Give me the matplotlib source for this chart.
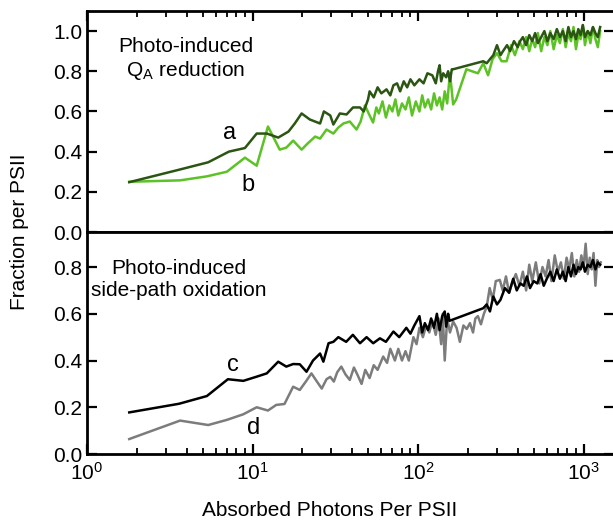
import numpy as np
import matplotlib
matplotlib.use('Agg')
import matplotlib.pyplot as plt
from matplotlib.ticker import LogLocator, NullFormatter, MultipleLocator

plt.rcParams.update({
    'font.family': ['Liberation Sans', 'DejaVu Sans'],
    'font.size': 14, 'axes.linewidth': 2.0,
    'xtick.direction': 'in', 'ytick.direction': 'in',
    'mathtext.fontset': 'custom', 'mathtext.rm': 'Liberation Sans',
    'mathtext.it': 'Liberation Sans', 'mathtext.default': 'regular',
})

# ---- data ----
# (a) photo-induced QA reduction, dark green
xa = [1.8, 3.6, 5.4, 7.2, 9.0, 10.6, 12.2, 14.3, 16.5, 18, 19.8, 22.2, 25.6, 27, 29.5,
      30.8, 33.7, 37, 40.5, 44.6, 47, 49.9, 51, 54, 57, 60, 64.5, 68, 71, 74.7,
      78, 82, 86, 90, 95, 102, 108, 114, 122, 128, 132, 135, 138, 142, 148,
      152, 156, 160, 163, 248, 260, 272, 285, 300, 315, 326, 345, 360, 380, 400,
      414, 430, 450, 470, 490, 510, 530, 555, 580, 605, 630, 660, 690, 720, 750,
      780, 810, 840, 870, 900, 930, 960, 990, 1020, 1060, 1100, 1140, 1180, 1220, 1260]
ya = [0.248, 0.31, 0.347, 0.40, 0.418, 0.49, 0.49, 0.47, 0.50, 0.54, 0.59, 0.56, 0.54, 0.60, 0.58,
      0.535, 0.59, 0.585, 0.62, 0.62, 0.60, 0.66, 0.70, 0.67, 0.72, 0.69, 0.71, 0.68, 0.73, 0.74,
      0.70, 0.75, 0.72, 0.76, 0.73, 0.76, 0.74, 0.79, 0.78, 0.74, 0.80, 0.83, 0.75, 0.79, 0.77,
      0.80, 0.75, 0.81, 0.81, 0.85, 0.84, 0.86, 0.88, 0.93, 0.88, 0.90, 0.93, 0.90, 0.95, 0.92,
      0.95, 0.97, 0.93, 0.98, 0.95, 0.99, 0.94, 0.97, 1.00, 0.95, 0.99, 0.96, 1.01, 0.97, 1.00,
      0.95, 1.02, 0.97, 1.00, 0.96, 1.01, 0.98, 1.03, 0.97, 1.00, 0.98, 1.02, 0.99, 0.97, 1.02]

# (b) photo-induced QA reduction, light green
xb = [1.8, 3.65, 5.3, 7.0, 9.0, 10.6, 12.4, 14.6, 16.0, 17.6, 19.8, 21.5, 23.9, 25.6, 28,
      30.8, 33, 35.4, 38.7, 42.5, 45, 47.8, 51, 53.5, 56, 58, 61, 64, 67, 70,
      73, 76, 80, 84, 88, 92, 97, 102, 106, 110, 115, 120, 125, 130, 135,
      140, 145, 150, 156, 163, 170, 196, 212, 230, 248, 265, 282, 300, 320, 343,
      365, 385, 410, 430, 450, 470, 490, 510, 530, 555, 580, 605, 630, 660, 690,
      720, 750, 780, 810, 840, 870, 900, 930, 960, 990, 1020, 1060, 1100, 1140, 1180,
      1220, 1260]
yb = [0.25, 0.257, 0.277, 0.30, 0.37, 0.33, 0.525, 0.41, 0.42, 0.455, 0.41, 0.44, 0.475, 0.465, 0.51,
      0.49, 0.52, 0.54, 0.55, 0.51, 0.55, 0.63, 0.58, 0.545, 0.62, 0.59, 0.65, 0.57, 0.63, 0.60,
      0.66, 0.58, 0.64, 0.61, 0.67, 0.58, 0.65, 0.60, 0.68, 0.62, 0.66, 0.61, 0.69, 0.63, 0.67,
      0.61, 0.70, 0.64, 0.79, 0.635, 0.66, 0.81, 0.80, 0.79, 0.84, 0.78, 0.86, 0.89, 0.85, 0.85,
      0.93, 0.88, 0.95, 0.91, 0.97, 0.90, 0.96, 0.92, 0.99, 0.90, 0.97, 0.93, 1.00, 0.91, 0.98,
      0.94, 1.01, 0.92, 0.99, 0.95, 1.02, 0.91, 0.98, 0.96, 1.03, 0.93, 1.00, 0.94, 1.02, 0.96,
      0.92, 1.00]

# (c) photo-induced side-path oxidation, black
xc = [1.8, 3.6, 5.3, 7.1, 8.8, 10.5, 12.2, 14.3, 16.0, 17.6, 19.3, 21.2, 23.2, 25.6, 26.8,
      28.8, 30.8, 33, 36.8, 40.4, 44.6, 48.9, 53.6, 58.9, 64, 71, 77, 85, 90, 95,
      102, 106, 110, 115, 120, 125, 130, 135, 140, 145, 148, 152, 155, 248, 260,
      272, 285, 300, 315, 335, 355, 376, 395, 415, 435, 455, 475, 500, 525, 550,
      575, 600, 630, 660, 690, 720, 750, 780, 810, 840, 870, 900, 930, 960, 990,
      1020, 1060, 1100, 1140, 1180, 1220, 1260]
yc = [0.178, 0.215, 0.248, 0.32, 0.313, 0.33, 0.345, 0.395, 0.374, 0.385, 0.384, 0.352, 0.40, 0.43, 0.395,
      0.474, 0.48, 0.50, 0.48, 0.51, 0.474, 0.50, 0.474, 0.495, 0.48, 0.524, 0.50, 0.54, 0.515, 0.55,
      0.59, 0.52, 0.56, 0.53, 0.58, 0.54, 0.60, 0.53, 0.59, 0.61, 0.545, 0.60, 0.57, 0.624, 0.64,
      0.61, 0.674, 0.64, 0.66, 0.71, 0.69, 0.75, 0.70, 0.73, 0.72, 0.76, 0.71, 0.74, 0.73, 0.77,
      0.72, 0.75, 0.78, 0.74, 0.79, 0.75, 0.78, 0.74, 0.80, 0.76, 0.81, 0.77, 0.80, 0.79, 0.82,
      0.78, 0.81, 0.80, 0.83, 0.79, 0.82, 0.81]

# (d) photo-induced side-path oxidation, grey
xd = [1.8, 3.65, 5.4, 7.0, 8.8, 10.6, 12.4, 13.9, 15.6, 17.6, 19.3, 21, 22.7, 24.5, 26.2,
      28, 29.5, 31, 32.5, 34.4, 36.5, 38.7, 41, 43, 45.6, 48, 51, 54, 57, 61.6,
      65, 68, 72.5, 76, 80, 84, 88, 93.8, 98, 102, 107, 112, 117, 122, 128,
      133, 138, 141, 145, 150, 156, 163, 171, 179, 188, 197, 206, 215, 222, 230,
      240, 250, 260, 271, 283, 295, 312, 325, 340, 355, 370, 390, 410, 430, 450,
      470, 490, 515, 540, 565, 590, 615, 640, 670, 700, 730, 760, 790, 820, 850,
      880, 910, 940, 970, 1000, 1030, 1060, 1090, 1120, 1150, 1180, 1210, 1240, 1270]
yd = [0.064, 0.143, 0.124, 0.146, 0.17, 0.20, 0.186, 0.21, 0.214, 0.288, 0.274, 0.31, 0.345, 0.31, 0.28,
      0.32, 0.33, 0.31, 0.35, 0.374, 0.34, 0.317, 0.37, 0.34, 0.30, 0.36, 0.325, 0.38, 0.36, 0.417,
      0.39, 0.45, 0.40, 0.45, 0.40, 0.44, 0.40, 0.50, 0.47, 0.54, 0.50, 0.55, 0.52, 0.57, 0.51,
      0.58, 0.47, 0.60, 0.40, 0.58, 0.52, 0.567, 0.54, 0.48, 0.55, 0.535, 0.56, 0.52, 0.58, 0.59,
      0.555, 0.60, 0.63, 0.71, 0.66, 0.74, 0.745, 0.70, 0.76, 0.69, 0.73, 0.77, 0.72, 0.78, 0.70,
      0.81, 0.74, 0.82, 0.73, 0.80, 0.76, 0.83, 0.74, 0.85, 0.78, 0.82, 0.75, 0.84, 0.79, 0.86,
      0.76, 0.83, 0.78, 0.85, 0.80, 0.90, 0.77, 0.84, 0.79, 0.86, 0.72, 0.83, 0.80, 0.82]

W, H = 613, 523
fig = plt.figure(figsize=(W / 100, H / 100), dpi=100)
left, right = 87 / W, 614 / W
ax1 = fig.add_axes([left, 1 - 232 / H, right - left, 221 / H])
ax2 = fig.add_axes([left, 1 - 454 / H, right - left, 222 / H], sharex=ax1)

lw = 1.8
ax1.plot(xa, ya, color='#2b5512', lw=lw, zorder=3)
ax1.plot(xb, yb, color='#5cc225', lw=lw, zorder=2)
ax2.plot(xd, yd, color='#7c7c7c', lw=lw, zorder=2)
ax2.plot(xc, yc, color='#000000', lw=lw, zorder=3)

for ax in (ax1, ax2):
    ax.set_xscale('log')
    ax.set_xlim(1, 1528)
    ax.xaxis.set_major_locator(LogLocator(base=10))
    ax.xaxis.set_minor_locator(LogLocator(base=10, subs=np.arange(2, 10)))
    ax.xaxis.set_minor_formatter(NullFormatter())
    ax.yaxis.set_major_locator(MultipleLocator(0.2))
    ax.tick_params(which='major', length=7, width=1.6, labelsize=15, right=True)
    ax.tick_params(which='minor', length=4, width=1.3)

ax1.set_ylim(0, 1.1)
ax2.set_ylim(0, 0.95)
ax1.tick_params(axis='x', which='both', top=True, bottom=False, labelbottom=False)
ax2.tick_params(axis='x', which='both', top=False, bottom=True)
ax2.tick_params(axis='x', which='major', pad=6)

ax1.text(0.187, 0.78, 'Photo-induced\nQ$_\\mathregular{A}$ reduction', transform=ax1.transAxes,
         ha='center', va='center', multialignment='center', fontsize=15, linespacing=1.2)
ax2.text(0.174, 0.784, 'Photo-induced\nside-path oxidation', transform=ax2.transAxes,
         ha='center', va='center', multialignment='center', fontsize=15, linespacing=1.2)

ax1.text(7.3, 0.495, 'a', fontsize=17, ha='center', va='center')
ax1.text(9.4, 0.235, 'b', fontsize=17, ha='center', va='center')
ax2.text(7.6, 0.38, 'c', fontsize=17, ha='center', va='center')
ax2.text(10.1, 0.113, 'd', fontsize=17, ha='center', va='center')

fig.text(20 / W, 1 - 232 / H, 'Fraction per PSII', rotation=90, ha='center', va='center', fontsize=15)
fig.text(330 / W, 1 - 511 / H, 'Absorbed Photons Per PSII', ha='center', va='center', fontsize=15)

fig.savefig('out.png', dpi=100)
